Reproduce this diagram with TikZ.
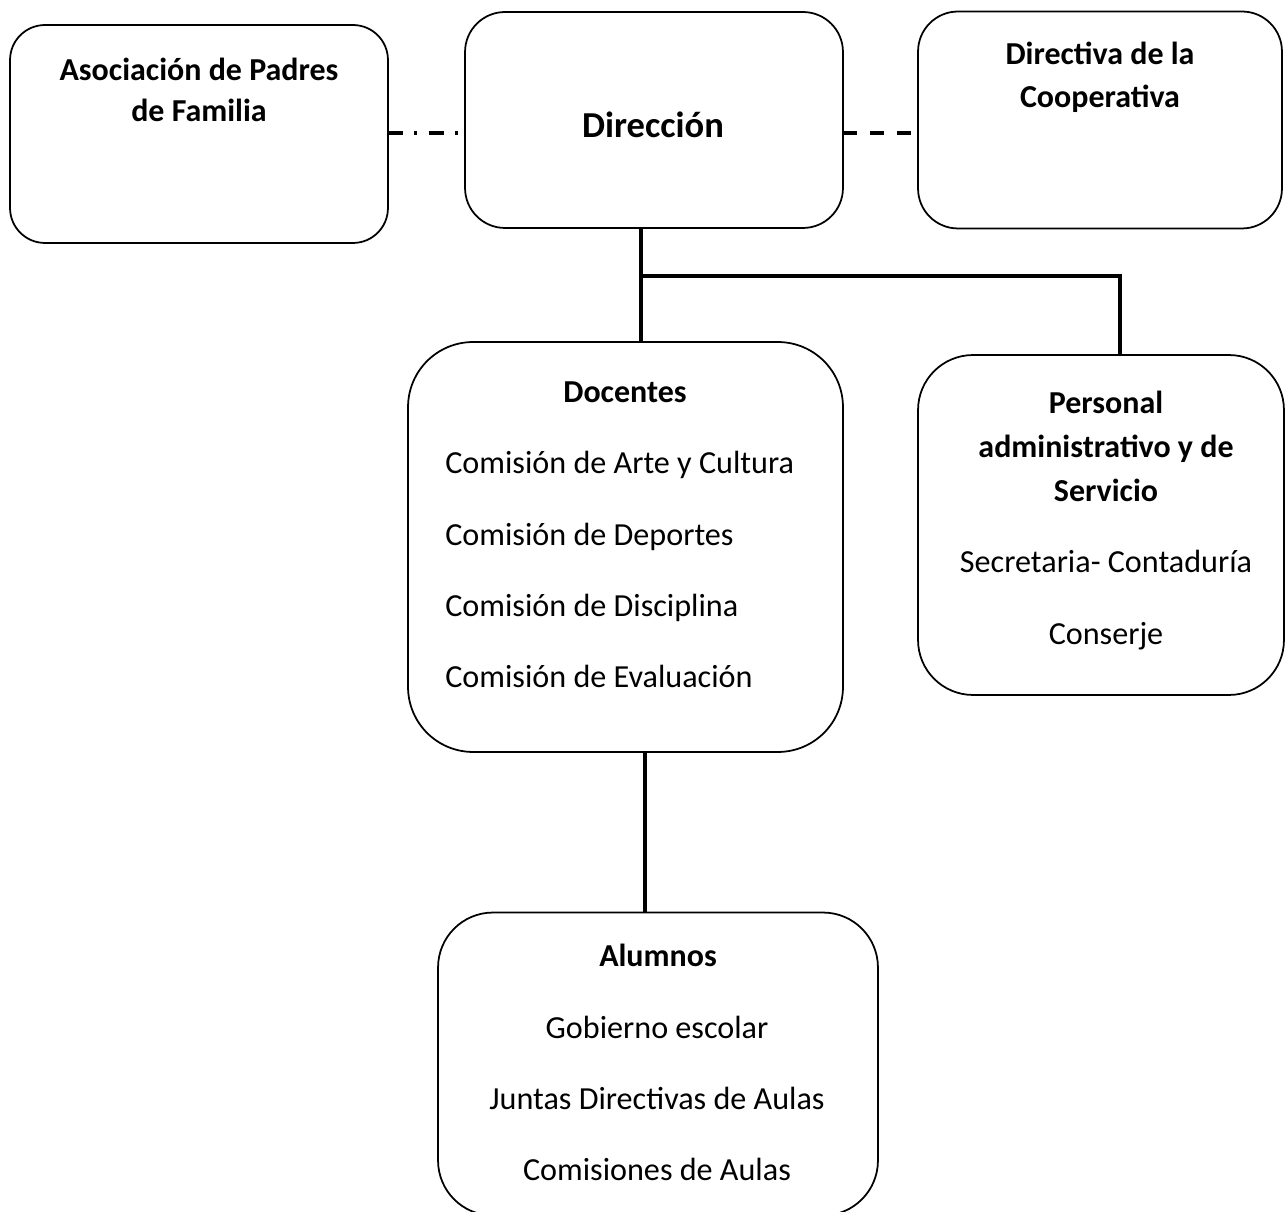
\documentclass[tikz,border=0pt]{standalone}
\usepackage{fontspec}
\setmainfont{Carlito}
\usepackage{tikz}

\begin{document}
\begin{tikzpicture}[
                    x=0.02cm, y=-0.02cm,
                    box/.style={
                        draw,
                        line width=1pt,
                        inner sep=0pt,
                        outer sep=0pt
                    },
                    title/.style={
                        anchor=mid,
                        inner sep=0pt,
                        font=\fontsize{18.2}{21}\selectfont\bfseries
                    },
                    item/.style={
                        anchor=mid,
                        inner sep=0pt,
                        font=\fontsize{18.3}{21}\selectfont
                    },
                    conn/.style={line width=2.2pt}
                ]
                    \useasboundingbox (0,0) rectangle (1285,1212);

                    % Boxes
                    \node[box, rounded corners=0.7cm, minimum width=7.56cm, minimum height=4.36cm] (apf) at (199,134) {};
                    \node[box, rounded corners=0.8cm, minimum width=7.56cm, minimum height=4.32cm] (dir) at (654,120) {};
                    \node[box, rounded corners=0.8cm, minimum width=7.28cm, minimum height=4.34cm] (coop) at (1100,120) {};
                    \node[box, rounded corners=1.3cm, minimum width=8.7cm, minimum height=8.2cm] (doc) at (625.5,547) {};
                    \node[box, rounded corners=1.1cm, minimum width=7.32cm, minimum height=6.8cm] (pers) at (1101,525) {};
                    \node[box, rounded corners=1.1cm, minimum width=8.8cm, minimum height=6.06cm] (alum) at (658,1064) {};

                    % Texts
                    \node[title] (apf1) at (199,76) {Asociación de Padres};
                    \node[title] (apf2) at (199,117) {de Familia};
                    \node[title, font=\fontsize{20.8}{24}\selectfont\bfseries] (dir1) at (653,133) {Dirección};
                    \node[title] (coop1) at (1100,60) {Directiva de la};
                    \node[title] (coop2) at (1100,103) {Cooperativa};

                    \node[title] (doc0) at (625,398) {Docentes};
                    \node[item, anchor=mid west] (doc1) at (445,469) {Comisión de Arte y Cultura};
                    \node[item, anchor=mid west] (doc2) at (445,541) {Comisión de Deportes};
                    \node[item, anchor=mid west] (doc3) at (445,612) {Comisión de Disciplina};
                    \node[item, anchor=mid west] (doc4) at (445,683) {Comisión de Evaluación};

                    \node[title] (pers1) at (1106,409) {Personal};
                    \node[title] (pers2) at (1106,453) {administrativo y de};
                    \node[title] (pers3) at (1106,497) {Servicio};
                    \node[item] (pers4) at (1106,568) {Secretaria- Contaduría};
                    \node[item] (pers5) at (1106,640) {Conserje};

                    \node[title] (alum0) at (658,962) {Alumnos};
                    \node[item] (alum1) at (657,1034) {Gobierno escolar};
                    \node[item] (alum2) at (657,1105) {Juntas Directivas de Aulas};
                    \node[item] (alum3) at (657,1176) {Comisiones de Aulas};

                    % Edges
                    \coordinate (j) at (641,276);
                    \coordinate (jr) at (1120,276);
                    \coordinate (k) at (645,0);
                    \coordinate (d) at (0,133);
                    \draw[conn] (dir.south -| j) -- (doc.north -| j);
                    \draw[conn] (j) -- (jr) -- (pers.north -| jr);
                    \draw[conn] (doc.south -| k) -- (alum.north -| k);
                    \draw[conn, dash pattern=on 8.5pt off 6.5pt on 1.7pt off 6.5pt] (d -| apf.east) -- (d -| dir.west);
                    \draw[conn, dash pattern=on 8pt off 7.4pt] (d -| dir.east) -- (d -| coop.west);
                \end{tikzpicture}
\end{document}
